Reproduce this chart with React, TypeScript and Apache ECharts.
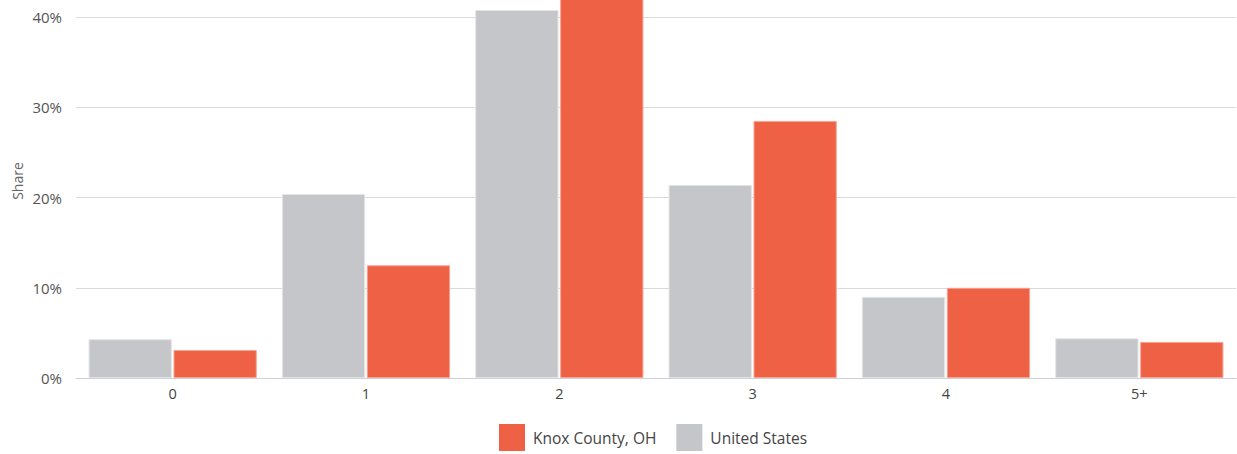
import React, { useEffect, useRef } from "react";
import * as echarts from "echarts";

const categories = ["0", "1", "2", "3", "4", "5+"];
const usValues = [4.3, 20.4, 40.8, 21.4, 9.0, 4.4];
const knoxValues = [3.1, 12.5, 43.0, 28.5, 10.0, 4.0];
const yTicks = [0, 10, 20, 30, 40];

const FONT = "'Open Sans', 'Noto Sans', sans-serif";
const SHIFT = 73;

export default function App() {
  const ref = useRef<HTMLDivElement>(null);
  useEffect(() => {
    if (!ref.current) return;
    const chart = echarts.init(ref.current, undefined, { renderer: "svg" });
    chart.setOption({
      animation: false,
      textStyle: { fontFamily: FONT },
      grid: { left: 76, right: 1, top: 0, bottom: 76, containLabel: false },
      legend: {
        bottom: 3,
        left: 499,
        padding: 0,
        itemWidth: 26,
        itemHeight: 27,
        itemGap: 20,
        icon: "rect",
        itemStyle: { borderWidth: 0 },
        data: ["Knox County, OH", "United States"],
        textStyle: { fontSize: 15.5, color: "#444", fontFamily: FONT, padding: [0, 0, 0, 3] },
      },
      graphic: [
        {
          type: "text",
          x: 17,
          y: 181 + SHIFT,
          rotation: Math.PI / 2,
          style: {
            text: "Share",
            fontSize: 14,
            fill: "#666",
            fontFamily: FONT,
            textAlign: "center",
            textVerticalAlign: "middle",
          },
        },
      ],
      xAxis: {
        type: "category",
        data: categories,
        axisLine: { lineStyle: { color: "#ccd0d6", width: 1 } },
        axisTick: { show: false },
        axisLabel: { fontSize: 14.5, color: "#444", margin: 8, fontFamily: FONT },
      },
      yAxis: {
        type: "value",
        min: 0,
        max: 50,
        interval: 10,
        axisLine: { show: false },
        axisTick: { show: false },
        splitLine: { lineStyle: { color: "#dadada", width: 1 } },
        axisLabel: {
          fontSize: 15,
          color: "#555",
          margin: 14,
          fontFamily: FONT,
          formatter: (v: number) => (yTicks.indexOf(v) >= 0 ? v + "%" : ""),
        },
      },
      series: [
        {
          name: "United States",
          type: "bar",
          data: usValues,
          barGap: "2%",
          barCategoryGap: "13%",
          itemStyle: { color: "#c5c6ca", borderColor: "#e4e4e6", borderWidth: 1 },
        },
        {
          name: "Knox County, OH",
          type: "bar",
          data: knoxValues,
          barGap: "2%",
          barCategoryGap: "13%",
          itemStyle: { color: "#ee6145", borderColor: "#f7a492", borderWidth: 1 },
        },
      ],
    });
    return () => chart.dispose();
  }, []);
  return (
    <div
      ref={ref}
      style={{ position: "absolute", left: 0, top: -SHIFT, width: 1237, height: 454 + SHIFT }}
    />
  );
}
